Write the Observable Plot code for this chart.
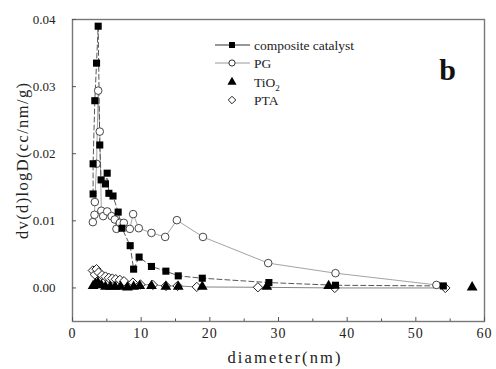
<!DOCTYPE html>
<html><head><meta charset="utf-8">
<script src="https://cdn.jsdelivr.net/npm/d3@7"></script>
<script src="https://cdn.jsdelivr.net/npm/@observablehq/plot@0.6"></script>
<style>
body{margin:0;background:#fff;}
#chart{position:relative;width:496px;height:369px;}
</style></head>
<body><div id="chart"></div>
<script>
// Composite catalyst (filled squares)
const compX = [3.0,3.0,3.25,3.5,3.74,3.97,4.17,4.8,5.05,5.3,5.9,6.65,7.2,8.4,8.9,9.7,11.5,13.6,15.4,18.9,28.6,38.3,54.0];
const compY = [0.0140,0.0185,0.0279,0.0335,0.0390,0.0213,0.0161,0.0155,0.0171,0.0141,0.0137,0.0113,0.0089,0.0063,0.0028,0.0046,0.0032,0.0025,0.0018,0.00145,0.0008,0.0004,0.0003];
// PG (open circles)
const pgX = [2.96,3.2,3.25,3.5,3.74,3.97,4.2,4.47,5.05,5.7,6.16,6.4,6.9,7.47,8.35,8.83,9.65,11.5,13.5,15.2,19.0,28.5,38.3,53.0];
const pgY = [0.0098,0.0109,0.0128,0.0185,0.0294,0.0233,0.0115,0.0107,0.0114,0.0107,0.0102,0.0088,0.0097,0.0097,0.0088,0.0110,0.0089,0.0082,0.0076,0.0101,0.0076,0.0037,0.0022,0.00045];
// TiO2 (filled triangles)
const tiX = [3.0,3.3,3.7,4.2,4.8,5.5,6.2,7.0,8.0,8.9,9.8,11.5,13.6,15.4,18.9,28.3,37.3,58.2];
const tiY = [0.0003,0.0006,0.0008,0.0004,0.0002,0.0002,0.0002,0.0002,0.0001,0.0002,0.0003,0.0003,0.0002,0.0002,0.0002,0.0002,0.0003,0.0001];
// PTA (open diamonds)
const ptaX = [2.96,3.25,3.5,3.8,4.3,4.8,5.3,5.8,6.3,6.9,7.5,8.8,9.9,11.7,13.6,15.3,18.1,27.0,38.2,54.3];
const ptaY = [0.0026,0.0020,0.0028,0.0023,0.0019,0.0017,0.0015,0.0014,0.0013,0.0012,0.0010,0.0008,0.0005,0.00045,0.0003,0.0003,0.00015,0.0001,0.0,0.0];

const seriesNames = ["composite catalyst","PG","TiO2","PTA"];
const xMajorTicks = [0,10,20,30,40,50,60];
const xMinorTicks = [5,15,25,35,45,55];
const yTicks = [0,0.01,0.02,0.03,0.04];
const xLabel = "diameter(nm)";
const yLabel = "dv(d)logD(cc/nm/g)";
const panelLabel = "b";

const rows = (xs, ys) => xs.map((x,i)=>({x, y: ys[i]}));
const comp = rows(compX, compY), pg = rows(pgX, pgY), ti = rows(tiX, tiY), pta = rows(ptaX, ptaY);

const serif = "'Liberation Serif','Times New Roman','DejaVu Serif',serif";

const plot = Plot.plot({
  width: 496, height: 369,
  marginLeft: 72, marginRight: 12, marginTop: 19, marginBottom: 48,
  style: {background: "#fff", color: "#222"},
  x: {domain: [0, 60]},
  y: {domain: [-0.005, 0.04]},
  marks: [
    Plot.line(pta, {x: "x", y: "y", stroke: "#777", strokeWidth: 0.9}),
    Plot.line(pg, {x: "x", y: "y", stroke: "#999", strokeWidth: 0.9}),
    Plot.line(comp, {x: "x", y: "y", stroke: "#444", strokeWidth: 0.9, strokeDasharray: "5,3"}),
    Plot.dot(pta, {x: "x", y: "y", symbol: "diamond2", r: 4.2, fill: "#fff", stroke: "#222", strokeWidth: 1}),
    Plot.dot(pg, {x: "x", y: "y", symbol: "circle", r: 3.8, fill: "#fff", stroke: "#333", strokeWidth: 0.9}),
    Plot.dot(ti, {x: "x", y: "y", symbol: "triangle", r: 4, fill: "#000", stroke: "none"}),
    Plot.dot(comp, {x: "x", y: "y", symbol: "square", r: 4, fill: "#000", stroke: "none"}),
    Plot.frame({stroke: "#777", strokeWidth: 1.4}),
    Plot.axisX(xMajorTicks, {tickSize: -4, tickPadding: 11, fontSize: 14, label: null, stroke: "#555", fill: "#222"}),
    Plot.axisX(xMinorTicks, {tickSize: -2.5, text: null, label: null, stroke: "#555"}),
    Plot.axisY(yTicks, {tickSize: -4, tickPadding: 21, fontSize: 13, tickFormat: d3.format(".2f"), label: null, stroke: "#555", fill: "#222"}),
    Plot.text([panelLabel], {frameAnchor: "top-left", textAnchor: "middle", lineAnchor: "middle", dx: 375, dy: 51, fontSize: 30, fontWeight: "bold", fill: "#111"})
  ]
});
document.getElementById("chart").appendChild(plot);

const svg = d3.select(plot);
svg.style("font-family", serif);

// Fit a text to a target length: size the font so natural width is ~88% of it, spread the rest as spacing
function fit(sel, target) {
  const node = sel.node();
  const fs = +sel.attr("font-size");
  const L = node.getComputedTextLength();
  if (L > 0) sel.attr("font-size", Math.min(fs, Math.max(fs * 0.7, fs * 0.88 * target / L)));
  sel.attr("textLength", target).attr("lengthAdjust", "spacing");
}

// Axis titles
const xt = svg.append("text").attr("x", 284).attr("y", 357).attr("dy", "0.35em")
  .attr("text-anchor", "middle").attr("font-size", 16.5).attr("fill", "#222").attr("font-family", serif).text(xLabel);
fit(xt, 113);
const yt = svg.append("text").attr("transform", "translate(22,161) rotate(-90)").attr("dy", "0.35em")
  .attr("text-anchor", "middle").attr("font-size", 16.5).attr("fill", "#222").attr("font-family", serif).text(yLabel);
fit(yt, 156);

// Legend drawn on top of the plot SVG
const lg = svg.append("g").attr("font-size", 13.5).attr("fill", "#222").attr("text-anchor", "start");
const legendRows = [
  {name: seriesNames[0], line: "#333", sym: d3.symbolSquare, fill: "#000", stroke: "none", size: 36},
  {name: seriesNames[1], line: "#999", sym: d3.symbolCircle, fill: "#fff", stroke: "#333", size: 30},
  {name: seriesNames[2], line: null, sym: d3.symbolTriangle, fill: "#000", stroke: "none", size: 36},
  {name: seriesNames[3], line: null, sym: d3.symbolDiamond2 || d3.symbolDiamond, fill: "#fff", stroke: "#222", size: 36}
];
const lx0 = 215, lx1 = 250, lsx = 232, ltx = 254, ly = [45, 63, 82, 100];
legendRows.forEach((r, i) => {
  const g = lg.append("g").attr("transform", `translate(0,${ly[i]})`);
  if (r.line) g.append("line").attr("x1", lx0).attr("x2", lx1).attr("y1", 0).attr("y2", 0).attr("stroke", r.line).attr("stroke-width", 1.2);
  g.append("path").attr("d", d3.symbol(r.sym, r.size)()).attr("transform", `translate(${lsx},0)`)
    .attr("fill", r.fill).attr("stroke", r.stroke).attr("stroke-width", 1);
  const t = g.append("text").attr("x", ltx).attr("dy", "0.35em").attr("text-anchor", "start").attr("font-family", serif);
  if (r.name === "TiO2") {
    t.append("tspan").text("TiO");
    t.append("tspan").attr("font-size", 9).attr("dy", "0.45em").text("2");
  } else t.text(r.name);
});
// Serif typeface on every text element
svg.selectAll("text").attr("font-family", serif).style("font-family", serif);
svg.selectAll('g[aria-label="x-axis tick label"] text').style("letter-spacing", "1px");
</script>
</body></html>
